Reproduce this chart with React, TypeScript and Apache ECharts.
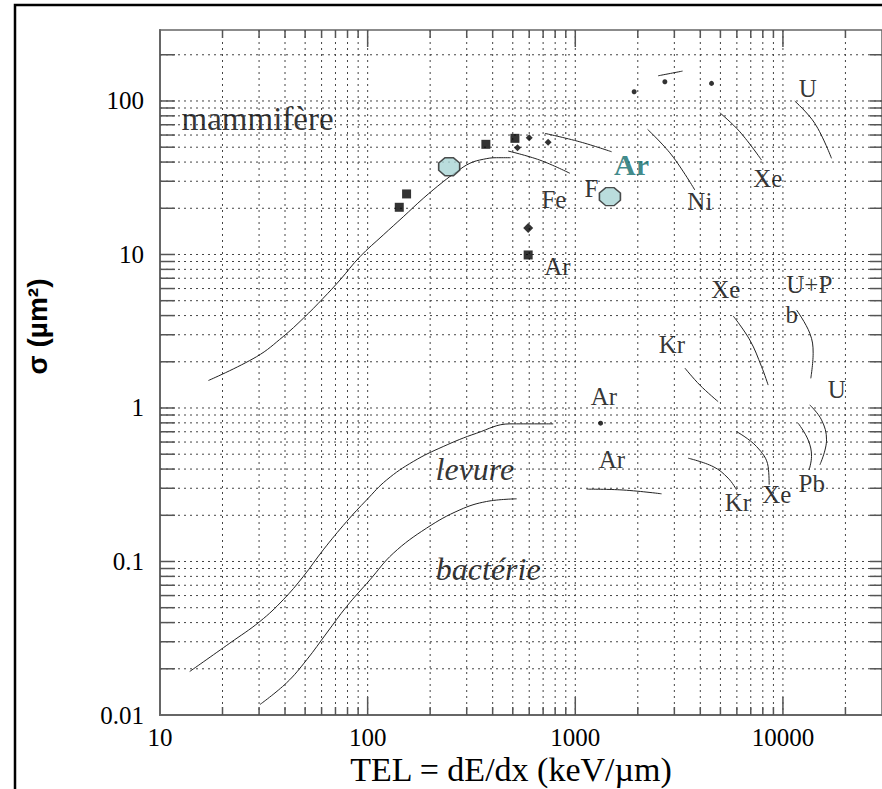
import React, { useEffect, useRef } from 'react';
import * as echarts from 'echarts';

// ---- axis ticks ----
const xTickLabels = ['10', '100', '1000', '10000'];
const yTickLabels = ['0.01', '0.1', '1', '10', '100'];
const xMajor = [10, 100, 1000, 10000];
const xGridValues = [20, 30, 40, 50, 60, 70, 80, 90, 100, 200, 300, 400, 500, 600, 700, 800, 900, 1000,
  2000, 3000, 4000, 5000, 6000, 7000, 8000, 9000, 10000, 20000];
const yGridValues = [0.02, 0.03, 0.04, 0.05, 0.06, 0.07, 0.08, 0.09, 0.1, 0.2, 0.3, 0.4, 0.5, 0.6, 0.7, 0.8, 0.9, 1,
  2, 3, 4, 5, 6, 7, 8, 9, 10, 20, 30, 40, 50, 60, 70, 80, 90, 100, 200];

// ---- survival curves ----
const mammalX = [17.1, 29.2, 39.2, 49, 61.1, 73.6, 91.8, 118.9, 148.4, 185.2, 231.2, 268.2, 310.9, 360.3, 417.9, 488.1];
const mammalY = [1.51, 2.16, 2.92, 3.84, 5.19, 6.82, 9.67, 13.4, 17.6, 23.2, 29.8, 34.6, 39.3, 41.7, 42.7, 42.7];
const yeastX = [13.9, 21.7, 30.3, 39.2, 49.0, 61.1, 79.2, 98.9, 123.5, 165.8, 231.2, 334.8, 484.3, 782.8];
const yeastY = [0.0192, 0.0294, 0.0407, 0.0563, 0.0799, 0.119, 0.182, 0.252, 0.34, 0.448, 0.561, 0.685, 0.788, 0.788];
const bacteriaX = [30.3, 40.7, 50.9, 63.5, 79.2, 102.6, 132.8, 192.3, 278.3, 374.1, 521.8];
const bacteriaY = [0.0117, 0.0162, 0.0229, 0.0342, 0.0509, 0.076, 0.113, 0.165, 0.217, 0.246, 0.256];

// ---- ion curves ----
const feX = [475, 675, 942];
const feY = [47.2, 41.2, 33.8];
const arHighX = [714, 1052, 1496];
const arHighY = [61.5, 54.2, 46.7];
const segX = [2506, 3286];
const segY = [145.9, 156.6];
const niX = [2229, 2908, 3765];
const niY = [65.3, 44.5, 26.3];
const xeHighX = [4967, 6202, 7888];
const xeHighY = [83.8, 63.0, 41.2];
const uHighX = [11410, 14240, 17140];
const uHighY = [99.8, 71.5, 42.3];
const xeMidX = [5757, 6928, 7888, 8488];
const xeMidY = [3.98, 2.77, 1.86, 1.41];
const upbX = [11630, 13470, 13980, 13620];
const upbY = [4.35, 3.07, 2.27, 1.56];
const krMidX = [3371, 3981, 4875];
const krMidY = [1.82, 1.41, 1.1];
const uLowX = [13470, 15340, 16220, 15060];
const uLowY = [1.047, 0.837, 0.62, 0.426];
const pbX = [11840, 13220, 13730, 13370];
const pbY = [0.796, 0.62, 0.483, 0.395];
const xeLowX = [5979, 7464, 8488, 8584];
const xeLowY = [0.702, 0.561, 0.415, 0.316];
const krLowX = [3496, 4613, 5447, 5979];
const krLowY = [0.471, 0.415, 0.349, 0.293];
const arLowX = [1134, 1639, 2603];
const arLowY = [0.296, 0.293, 0.276];

// ---- markers ----
const squaresX = [142, 154, 371, 512, 593];
const squaresY = [20.3, 24.8, 52.2, 57.1, 9.93];
const smallDiamondsX = [527, 600, 740];
const smallDiamondsY = [49.6, 57.6, 53.8];
const bigDiamondX = [593];
const bigDiamondY = [14.9];
const dotsX = [1921, 2700, 4530, 1324];
const dotsY = [114.8, 133.4, 130.2, 0.796];
const octagonX = [247, 1468];
const octagonY = [37.3, 23.8];

// ---- annotations ----
const labelTexts = ['mammifère', 'Fe', 'Ar', 'Ar', 'F', 'Ni', 'Xe', 'U', 'Xe', 'U+P', 'b', 'Kr', 'U', 'Ar', 'Ar', 'Kr', 'Xe', 'Pb', 'levure', 'bactérie'];
const labelX = [29.5, 789, 820, 1866, 1198, 3981, 8459, 13180, 5309, 13400, 11040, 2918, 18180, 1373, 1500, 6066, 9346, 13770, 328.6, 380.8];
const labelY = [76.4, 22.7, 8.33, 38.3, 26.9, 22.1, 31.3, 120.6, 5.9, 6.36, 4.06, 2.59, 1.318, 1.187, 0.461, 0.242, 0.273, 0.323, 0.4, 0.0894];

const SERIF = '"Liberation Serif", "Times New Roman", serif';

function labelStyle(i: number) {
  const t = labelTexts[i];
  if (t === 'mammifère') return { fontSize: 33 };
  if (t === 'levure' || t === 'bactérie') return { fontSize: 32, fontStyle: 'italic' };
  if (i === 3) return { fontSize: 30, fontWeight: 'bold', color: '#0e6b6b' };
  return { fontSize: 25 };
}

const pairs = (xs: number[], ys: number[]) => xs.map((x, i) => [x, ys[i]]);

const curve = (name: string, xs: number[], ys: number[]) => ({
  name,
  type: 'line',
  data: pairs(xs, ys),
  smooth: 0.4,
  symbol: 'none',
  silent: true,
  z: 3,
  lineStyle: { color: '#222', width: 1 },
});

const GRID_STYLE = { stroke: '#444', lineWidth: 1, lineDash: [2, 4] };
const TICK_STYLE = { stroke: '#555', lineWidth: 1.5 };

export default function App() {
  const ref = useRef<HTMLDivElement>(null);
  useEffect(() => {
    if (!ref.current) return;
    const chart = echarts.init(ref.current, undefined, { renderer: 'svg' });

    const renderV = (params: any, api: any) => {
      const v = api.value(0);
      const cs = params.coordSys;
      const x = api.coord([v, 1])[0];
      const major = xMajor.indexOf(v) >= 0;
      const top = cs.y;
      const bot = cs.y + cs.height;
      return {
        type: 'group',
        children: [
          { type: 'line', shape: { x1: x, y1: top, x2: x, y2: bot }, style: GRID_STYLE },
          { type: 'line', shape: { x1: x, y1: bot, x2: x, y2: bot - (major ? 18 : 8) }, style: TICK_STYLE },
          { type: 'line', shape: { x1: x, y1: top, x2: x, y2: top + (major ? 17 : 8) }, style: TICK_STYLE },
        ],
      };
    };
    const renderH = (params: any, api: any) => {
      const v = api.value(1);
      const cs = params.coordSys;
      const y = api.coord([100, v])[1];
      const left = cs.x;
      const right = cs.x + cs.width;
      return {
        type: 'group',
        children: [
          { type: 'line', shape: { x1: left, y1: y, x2: right, y2: y }, style: GRID_STYLE },
          { type: 'line', shape: { x1: left, y1: y, x2: left + 15, y2: y }, style: TICK_STYLE },
          { type: 'line', shape: { x1: right, y1: y, x2: right - 12, y2: y }, style: TICK_STYLE },
        ],
      };
    };

    const option: any = {
      animation: false,
      backgroundColor: '#fff',
      grid: {
        left: 160, right: 0, top: 30, bottom: 74,
        show: true, borderColor: '#666', borderWidth: 1.5, backgroundColor: 'transparent',
      },
      xAxis: {
        type: 'log', logBase: 10, min: 10, max: 30000,
        axisLine: { show: true, lineStyle: { color: '#666', width: 2 } },
        axisTick: { show: false },
        splitLine: { show: false },
        axisLabel: {
          show: true, margin: 10, color: '#000', fontSize: 25, fontFamily: SERIF,
          showMaxLabel: false,
          formatter: (v: number) => {
            const s = String(Math.round(v));
            return xTickLabels.indexOf(s) >= 0 ? s : '';
          },
        },
      },
      yAxis: {
        type: 'log', logBase: 10, min: 0.01, max: 290,
        axisLine: { show: true, lineStyle: { color: '#666', width: 2 } },
        axisTick: { show: false },
        splitLine: { show: false },
        axisLabel: {
          show: true, margin: 16, color: '#000', fontSize: 25, fontFamily: SERIF,
          showMaxLabel: false,
          padding: [0, 0, 8, 0],
          formatter: (v: number) => {
            const s = String(Number(v.toPrecision(3)));
            return yTickLabels.indexOf(s) >= 0 ? s : '';
          },
        },
      },
      graphic: [
        {
          type: 'rect', shape: { x: 15, y: 5, width: 950, height: 950 },
          style: { fill: 'none', stroke: '#000', lineWidth: 2.5 }, silent: true, z: 100,
        },
        {
          type: 'text', x: 511, y: 769, silent: true,
          style: { text: 'TEL = dE/dx (keV/µm)', fontSize: 34, fontFamily: SERIF, fill: '#000', align: 'center', verticalAlign: 'middle' },
        },
        {
          type: 'text', x: 37.5, y: 326.5, rotation: Math.PI / 2, silent: true,
          style: { text: 'σ (µm²)', fontSize: 28, fontWeight: 'bold', fontFamily: '"Liberation Sans", Arial, sans-serif', fill: '#000', align: 'center', verticalAlign: 'middle' },
        },
      ],
      series: [
        { type: 'custom', name: 'vgrid', silent: true, z: 1, data: xGridValues.map((v) => [v, 1]), renderItem: renderV },
        { type: 'custom', name: 'hgrid', silent: true, z: 1, data: yGridValues.map((v) => [100, v]), renderItem: renderH },
        curve('mammifère', mammalX, mammalY),
        curve('levure', yeastX, yeastY),
        curve('bactérie', bacteriaX, bacteriaY),
        curve('Fe', feX, feY),
        curve('Ar haut', arHighX, arHighY),
        curve('segment', segX, segY),
        curve('Ni', niX, niY),
        curve('Xe haut', xeHighX, xeHighY),
        curve('U haut', uHighX, uHighY),
        curve('Xe milieu', xeMidX, xeMidY),
        curve('U+Pb', upbX, upbY),
        curve('Kr milieu', krMidX, krMidY),
        curve('U bas', uLowX, uLowY),
        curve('Pb', pbX, pbY),
        curve('Xe bas', xeLowX, xeLowY),
        curve('Kr bas', krLowX, krLowY),
        curve('Ar bas', arLowX, arLowY),
        {
          type: 'scatter', name: 'carrés', silent: true, z: 4,
          symbol: 'rect', symbolSize: 9, itemStyle: { color: '#000' },
          data: pairs(squaresX, squaresY),
        },
        {
          type: 'scatter', name: 'losanges', silent: true, z: 4,
          symbol: 'diamond', symbolSize: 7, itemStyle: { color: '#000' },
          data: pairs(smallDiamondsX, smallDiamondsY),
        },
        {
          type: 'scatter', name: 'losange', silent: true, z: 4,
          symbol: 'diamond', symbolSize: 10, itemStyle: { color: '#000' },
          data: pairs(bigDiamondX, bigDiamondY),
        },
        {
          type: 'scatter', name: 'points', silent: true, z: 4,
          symbol: 'circle', symbolSize: 5, itemStyle: { color: '#000' },
          data: pairs(dotsX, dotsY),
        },
        {
          type: 'scatter', name: 'octogones', silent: true, z: 5,
          symbol: 'path://M3,0 L7,0 L10,3 L10,7 L7,10 L3,10 L0,7 L0,3 Z', symbolSize: [21, 18],
          itemStyle: { color: '#a9d5d5', borderColor: '#222', borderWidth: 1.5 },
          data: pairs(octagonX, octagonY),
        },
        {
          type: 'scatter', name: 'annotations', silent: true, z: 6,
          symbol: 'circle', symbolSize: 1, itemStyle: { color: 'rgba(0,0,0,0)' },
          data: labelTexts.map((t, i) => ({
            value: [labelX[i], labelY[i]],
            label: {
              show: true, position: 'inside', formatter: t, color: '#000', fontFamily: SERIF,
              ...labelStyle(i),
            },
          })),
        },
      ],
    };
    chart.setOption(option);
    return () => chart.dispose();
  }, []);
  return <div ref={ref} style={{ position: 'absolute', left: 0, top: 0, width: 882, height: 789, background: '#fff' }} />;
}
